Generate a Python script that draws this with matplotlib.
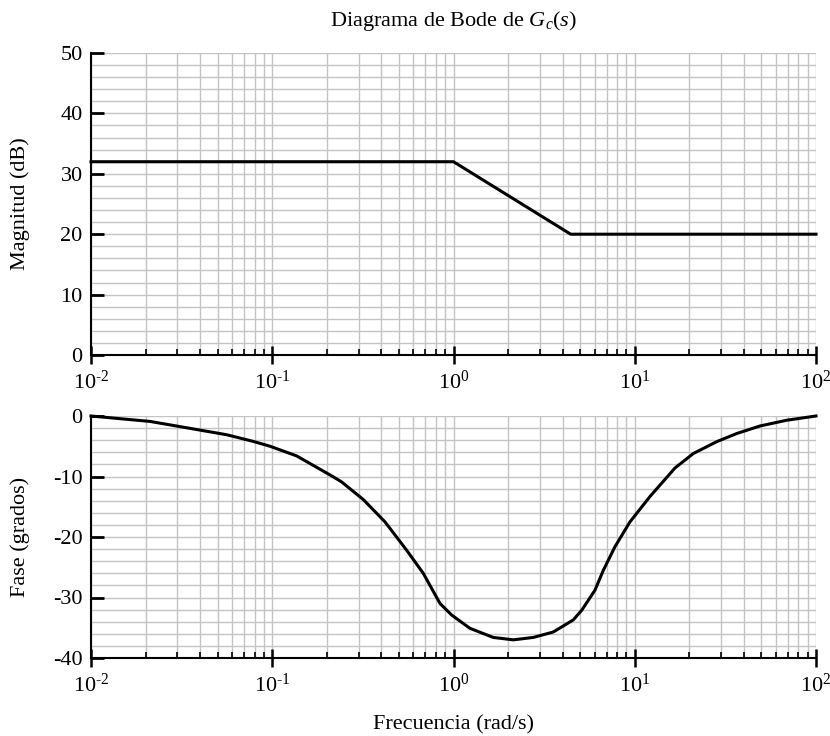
import matplotlib
matplotlib.use("Agg")
import matplotlib.pyplot as plt
from matplotlib.ticker import LogLocator, MultipleLocator, FuncFormatter, NullFormatter
import numpy as np

plt.rcParams['font.family'] = ['Liberation Serif', 'DejaVu Serif']
plt.rcParams['mathtext.fontset'] = 'custom'
plt.rcParams['mathtext.rm'] = 'Liberation Serif'
plt.rcParams['mathtext.it'] = 'Liberation Serif:italic'
plt.rcParams['mathtext.default'] = 'regular'
plt.rcParams['axes.unicode_minus'] = False

# magnitud (asintotas)
w_mag = [0.01, 1.0, 4.43, 100.0]
mag_db = [32, 32, 20, 20]

# fase
w_fase = [0.01, 0.0212, 0.0316, 0.0561, 0.0786, 0.0972, 0.1364, 0.2128, 0.2415,
          0.3177, 0.4188, 0.552, 0.681, 0.843, 0.977, 1.233, 1.658, 2.138, 2.756,
          3.555, 4.58, 5.10, 6.03, 6.71, 7.78, 9.41, 12.14, 16.67, 21.04, 28.3,
          36.5, 49.1, 68.9, 100.0]
fase = [0, -0.9, -1.8, -3.1, -4.2, -5.0, -6.6, -9.9, -10.9,
        -13.8, -17.5, -22.2, -26.0, -31.0, -32.9, -35.1, -36.6, -37.0, -36.6,
        -35.7, -33.7, -32.1, -28.8, -25.5, -21.6, -17.5, -13.3, -8.6, -6.2, -4.25,
        -2.9, -1.65, -0.7, 0]

W, H = 830, 736
fig = plt.figure(figsize=(W / 100, H / 100), dpi=100)


def pot10(x, pos):
    e = int(round(np.log10(x)))
    s = str(e).replace('-', '\u2010')
    return r'$10^{' + s + '}$'


def make_ax(top_px, bot_px):
    left, right = 91, 816
    return fig.add_axes([left / W, 1 - bot_px / H, (right - left) / W, (bot_px - top_px) / H])


def style(ax, ylo, yhi):
    ax.set_xscale('log')
    ax.set_xlim(0.01, 100)
    ax.set_ylim(ylo, yhi)
    ax.xaxis.set_major_locator(LogLocator(base=10, numticks=10))
    ax.xaxis.set_minor_locator(LogLocator(base=10, subs=range(2, 10), numticks=20))
    ax.xaxis.set_major_formatter(FuncFormatter(pot10))
    ax.xaxis.set_minor_formatter(NullFormatter())
    ax.yaxis.set_major_locator(MultipleLocator(10))
    ax.yaxis.set_minor_locator(MultipleLocator(2))
    for s in ['top', 'right']:
        ax.spines[s].set_visible(False)
    for s in ['left', 'bottom']:
        ax.spines[s].set_linewidth(1.5)
    ax.grid(True, which='both', color='#c4c4c4', linewidth=1.0)
    ax.set_axisbelow(True)
    ax.tick_params(axis='x', which='major', direction='inout', length=13, width=1.8,
                   pad=5, labelsize=16)
    ax.tick_params(axis='x', which='minor', direction='in', length=4.5, width=1.2)
    ax.tick_params(axis='y', which='major', direction='in', length=9.5, width=2,
                   pad=6, labelsize=16)
    ax.tick_params(axis='y', which='minor', length=0)
    ax.yaxis.set_label_coords(-0.084, 0.5)


ax1 = make_ax(53, 355)
style(ax1, 0, 50)
ax1.plot(w_mag, mag_db, color='black', linewidth=2.2, clip_on=False)
ax1.set_ylabel('Magnitud (dB)', fontsize=16)

ax2 = make_ax(416, 658)
style(ax2, -40, 0)
ax2.plot(w_fase, fase, color='black', linewidth=2.2, clip_on=False)
ax2.set_ylabel('Fase (grados)', fontsize=16)

fig.text(453.5 / W, 1 - 725 / H, 'Frecuencia (rad/s)', ha='center', va='center', fontsize=16)
fig.text(453.5 / W, 1 - 21 / H, r'Diagrama de Bode de $\mathit{G_c(s)}$',
         ha='center', va='center', fontsize=16)

fig.savefig('out.png', dpi=100)
